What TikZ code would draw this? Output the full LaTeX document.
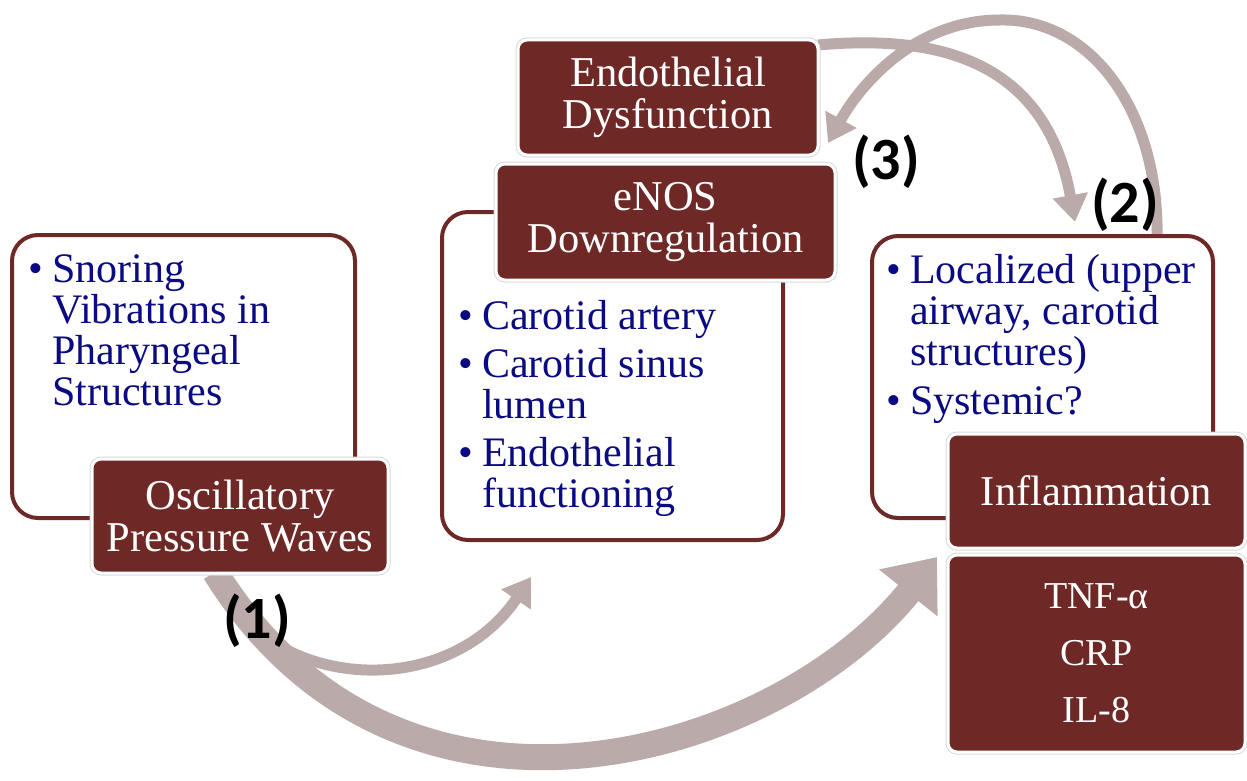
\documentclass[tikz,border=0pt]{standalone}
\usepackage{fontspec}
\setmainfont{Liberation Serif}
\newfontfamily\numfont{Carlito}
\usetikzlibrary{arrows.meta}

\definecolor{boxred}{RGB}{110,41,39}
\definecolor{itemblue}{RGB}{10,10,130}
\definecolor{arrowgrey}{RGB}{186,171,170}

\newcommand{\itm}{\makebox[24pt][l]{\textbullet}}
\newcommand{\ind}{\hspace*{24pt}}

\begin{document}
\begin{tikzpicture}[x=1pt,y=-1pt,
  listbox/.style={draw=boxred, line width=4pt, fill=white, rounded corners=26pt},
  headbox/.style={fill=boxred, draw=white, line width=3pt, rounded corners=9pt,
    text=white, align=center, inner sep=0pt, font=\fontsize{42.5}{42}\selectfont,
    preaction={draw=black!15, line width=5pt}},
  items/.style={anchor=north west, align=left, inner sep=0pt, text=itemblue,
    font=\fontsize{42}{41}\selectfont},
  flow/.style={draw=arrowgrey, line width=11pt, -{Triangle[length=27pt,width=34pt]}},
  tag/.style={font=\numfont\bfseries\fontsize{60}{60}\selectfont}]
\useasboundingbox (0,0) rectangle (1247,781);

% arrow ends
\coordinate (t_1) at (215,572);
\coordinate (h_1) at (531,577);
\coordinate (h_big) at (937,557);
\coordinate (t_2) at (818,45);
\coordinate (h_2) at (1075,222);
\coordinate (t_3) at (1157,240);
\coordinate (top_3) at (1000,20);
\coordinate (h_3) at (828,143);

\draw[flow, line width=26pt, -{Triangle[length=46pt,width=72pt]}]
  (t_1) .. controls (400,870) and (777,757) .. (h_big);
\draw[flow] (t_1) .. controls (260,690) and (445,705) .. (h_1);
\draw[flow] (t_2) .. controls (930,35) and (1045,55) .. (h_2);
\draw[flow] (t_3) .. controls (1160,110) and (1090,18) .. (top_3)
  .. controls (915,20) and (860,85) .. (h_3);

% list boxes
\draw[listbox] (12,235) rectangle (355,518);
\draw[listbox] (442,212) rectangle (783,540);
\draw[listbox] (872,236) rectangle (1213,518);

\node[items] (snore_txt) at (28,254) {\itm Snoring\\ \ind Vibrations in\\ \ind Pharyngeal\\ \ind Structures};
\node[items] (enos_txt) at (458,300) {\itm Carotid artery\\[7pt] \itm Carotid sinus\\ \ind lumen\\[7pt] \itm Endothelial\\ \ind functioning};
\node[items] (infl_txt) at (886,254) {\itm Localized (upper\\ \ind airway, carotid\\ \ind structures)\\[8pt] \itm Systemic?};

% heading boxes
\node[headbox, minimum width=296pt, minimum height=114pt] (osc) at (240,516) {Oscillatory\\Pressure Waves};
\node[headbox, minimum width=339pt, minimum height=116pt] (enos) at (665.5,222) {eNOS\\Downregulation};
\node[headbox, minimum width=300pt, minimum height=115pt] (endo) at (668,97.5) {Endothelial\\Dysfunction};
\node[headbox, minimum width=297pt, minimum height=114pt] (infl) at (1096.5,491) {Inflammation};
\node[headbox, minimum width=297pt, minimum height=197pt, font=\fontsize{38}{57}\selectfont] (cyto) at (1096.5,653.5) {TNF-α\\CRP\\IL-8};

\node[tag] (lab_1) at (257,621) {(1)};
\node[tag] (lab_2) at (1125,205) {(2)};
\node[tag] (lab_3) at (886,162) {(3)};

\end{tikzpicture}
\end{document}
